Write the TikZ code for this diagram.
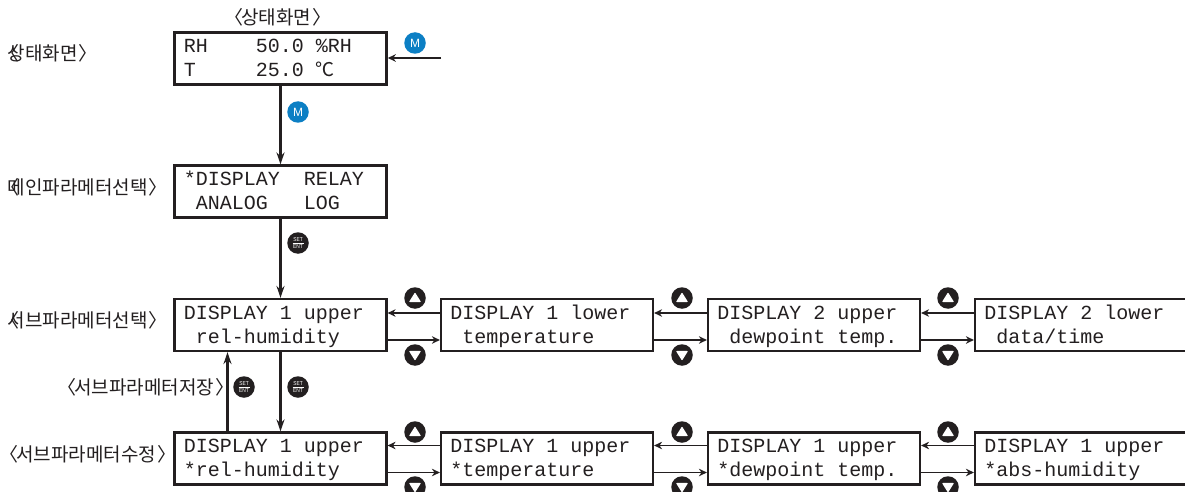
\documentclass[tikz,border=0pt]{standalone}
\usepackage{fontspec}
\setmainfont{Liberation Sans}
\setmonofont{Liberation Mono}
\newfontfamily\cjk{Noto Sans CJK KR}
\usetikzlibrary{arrows.meta}
\definecolor{ink}{HTML}{231F20}
\definecolor{mblue}{HTML}{0C7FC4}
\newcommand{\lbr}{\hspace*{-.5em}〈\hspace*{-.12em}}
\newcommand{\lbrov}{\hspace*{-.5em}〈\hspace*{-.62em}}
\newcommand{\rbr}{\hspace*{.04em}〉}
\newcommand{\setent}{\smash{\fontsize{5.7}{6}\selectfont\makebox[0pt]{\raisebox{1.1pt}{\scalebox{.85}[1]{SET}}}\makebox[0pt]{\rule[0pt]{11pt}{.5pt}}\makebox[0pt]{\raisebox{-5.2pt}{\scalebox{.85}[1]{ENT}}}}}
\newcommand{\degc}{\makebox[12pt][l]{\cjk\fontsize{19}{19}\selectfont ℃}}
\newcommand{\sk}{\hspace*{12pt}}
\newcommand{\lcdl}{\rule[-6pt]{0pt}{24pt}}
\newcommand{\two}[2]{\hspace*{-.7pt}\lcdl #1\\{}\hspace*{-.7pt}\lcdl #2}
\tikzset{
  x=1pt,y=-1pt,
  lcd/.style={draw=ink,line width=2.2pt,minimum width=212pt,minimum height=52pt,inner sep=0pt,
    text width=192pt,align=left,text=ink,font=\ttfamily\fontsize{20}{24}\selectfont},
  lcdthick/.style={lcd,line width=2.6pt},
  lab/.style={inner sep=0pt,anchor=west,text=ink,font=\cjk\fontsize{19}{22}\selectfont},
  mbtn/.style={circle,fill=mblue,minimum size=21.5pt,inner sep=0pt,text=white,font=\fontsize{12}{12}\selectfont},
  setbtn/.style={circle,fill=ink,minimum size=21.5pt,inner sep=0pt,text=white},
  navbtn/.style={circle,fill=ink,minimum size=21.5pt,inner sep=0pt},
  wire/.style={draw=ink,line width=2.3pt,-{Stealth[length=12pt,width=8pt]}},
  hwire/.style={draw=ink,line width=1.9pt,-{Stealth[length=8pt,width=7.5pt]}},
  tri/.style={fill=white,draw=white,line width=1.2pt,line join=round},
}
\newcommand{\upbtn}[3]{\node[navbtn] (#1) at (#2,#3) {};
  \path[tri] ([shift={(-5,3.5)}]#1.center) -- ([shift={(0,-4.5)}]#1.center) -- ([shift={(5,3.5)}]#1.center) -- cycle;}
\newcommand{\dnbtn}[3]{\node[navbtn] (#1) at (#2,#3) {};
  \path[tri] ([shift={(-5,-3.5)}]#1.center) -- ([shift={(0,4.5)}]#1.center) -- ([shift={(5,-3.5)}]#1.center) -- cycle;}
\begin{document}
\begin{tikzpicture}
\useasboundingbox (0,0) rectangle (1185,492);
\clip (0,0) rectangle (1185,492);
\fill[white] (0,0) rectangle (1185,492);
% boxes
\node[lcdthick] (status) at (280.5,58.5) {\two{RH\sk\sk\sk\sk 50.0\sk\%RH}{T\sk\sk\sk\sk\sk 25.0\sk\degc}};
\node[lcd] (main) at (280.5,191.5) {\two{*DISPLAY\sk\sk RELAY}{\sk ANALOG\sk\sk\sk LOG}};
\node[lcd] (a1) at (280.5,325) {\two{DISPLAY\sk 1\sk upper}{\sk rel-humidity}};
\node[lcd] (a2) at (547,325) {\two{DISPLAY\sk 1\sk lower}{\sk temperature}};
\node[lcd] (a3) at (814,325) {\two{DISPLAY\sk 2\sk upper}{\sk dewpoint\sk temp.}};
\node[lcd] (a4) at (1081,325) {\two{DISPLAY\sk 2\sk lower}{\sk data/time}};
\node[lcd] (b1) at (280.5,458.5) {\two{DISPLAY\sk 1\sk upper}{*rel-humidity}};
\node[lcd] (b2) at (547,458.5) {\two{DISPLAY\sk 1\sk upper}{*temperature}};
\node[lcd] (b3) at (814,458.5) {\two{DISPLAY\sk 1\sk upper}{*dewpoint\sk temp.}};
\node[lcd] (b4) at (1081,458.5) {\two{DISPLAY\sk 1\sk upper}{*abs-humidity}};
% labels
\node[lab] (ttop) at (234,17) {\lbr 상태화면\rbr};
\node[lab] (t1) at (10,53) {\lbrov 상태화면\rbr};
\node[lab] (t2) at (10,187) {\lbrov 메인파라메터선택\rbr};
\node[lab] (t3) at (10,320) {\lbrov 서브파라메터선택\rbr};
\node[lab] (t4) at (67,387) {\lbr 서브파라메터저장\rbr};
\node[lab] (t5) at (9,454) {\lbr 서브파라메터수정\rbr};
% vertical connectors
\coordinate (entry) at (441,58);
\draw[hwire] (entry) -- (entry -| status.east);
\draw[wire] (status.south) -- (main.north);
\draw[wire] (main.south) -- (a1.north);
\draw[wire] (a1.south) -- (b1.north);
\draw[wire] ([xshift=-53pt]b1.north) -- ([xshift=-53pt]a1.south);
% horizontal connectors
\foreach \l/\r in {a1/a2,a2/a3,a3/a4}{
  \draw[hwire] ([yshift=12pt]\r.west) -- ([yshift=12pt]\l.east);
  \draw[hwire] ([yshift=-15pt]\l.east) -- ([yshift=-15pt]\r.west);
}
\foreach \l/\r in {b1/b2,b2/b3,b3/b4}{
  \draw[hwire] ([yshift=13pt]\r.west) -- ([yshift=13pt]\l.east);
  \draw[hwire] ([yshift=-14pt]\l.east) -- ([yshift=-14pt]\r.west);
}
% buttons
\node[mbtn] (m1) at (415,43) {M};
\node[mbtn] (m2) at (298,112) {M};
\node[setbtn] (s1) at (298,243) {\setent};
\node[setbtn] (s2) at (244,387) {\setent};
\node[setbtn] (s3) at (298,387) {\setent};
\upbtn{ua1}{415}{298} \upbtn{ua2}{682}{298} \upbtn{ua3}{948}{298}
\dnbtn{da1}{415}{355} \dnbtn{da2}{682}{355} \dnbtn{da3}{948}{355}
\upbtn{ub1}{415}{432} \upbtn{ub2}{682}{432} \upbtn{ub3}{948}{432}
\dnbtn{db1}{415}{487} \dnbtn{db2}{682}{487} \dnbtn{db3}{948}{487}
\end{tikzpicture}
\end{document}
